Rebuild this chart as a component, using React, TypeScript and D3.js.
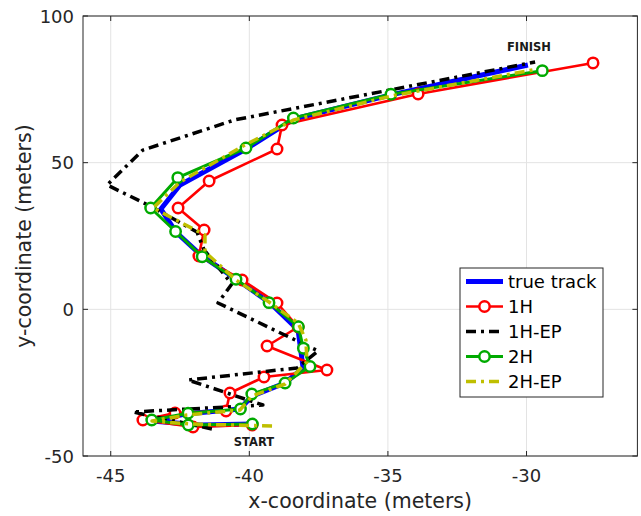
import React from 'react'
import * as d3 from 'd3'

// Data (meters)
const xTicks = [-45, -40, -35, -30]
const yTicks = [-50, 0, 50, 100]

const truthX = [-39.9, -41.78, -43.51, -42.32, -40.34, -39.9, -38.71, -38.06, -38.24, -39.25, -40.48, -41.71, -42.65, -43.19, -42.5, -40.12, -38.39, -34.89, -29.95]
const truthY = [-39.09, -39.43, -38.07, -35.68, -33.98, -29.54, -25.11, -20.0, -7.04, 2.16, 10.35, 18.19, 26.37, 34.2, 42.4, 54.67, 64.9, 73.1, 83.3]

const h1X = [-39.9, -42.03, -43.84, -42.68, -40.84, -40.7, -39.47, -37.2, -39.36, -38.24, -39.0, -40.26, -41.82, -41.63, -42.57, -41.45, -39.0, -38.82, -33.91, -27.6]
const h1Y = [-39.43, -40.11, -37.73, -35.34, -34.66, -28.52, -23.07, -20.68, -12.5, -6.02, 2.16, 10.0, 18.19, 27.05, 34.55, 43.76, 54.67, 62.85, 73.42, 84.0]

const ep1X = [-41.35, -44.2, -39.51, -42.21, -38.28, -37.52, -41.13, -40.63, -41.63, -41.89, -43.51, -45.13, -43.84, -40.52, -29.69]
const ep1Y = [-40.79, -35.0, -32.61, -24.09, -20.0, -14.2, 2.16, 8.64, 20.24, 26.37, 34.9, 42.4, 54.3, 64.6, 84.3]

const h2X = [-39.89, -42.2, -43.52, -42.21, -40.32, -39.91, -38.71, -37.81, -38.05, -38.23, -39.29, -40.48, -41.7, -42.66, -43.56, -42.58, -40.12, -38.41, -34.89, -29.43]
const h2Y = [-39.09, -39.43, -37.73, -35.44, -33.98, -28.86, -25.11, -19.49, -13.28, -5.92, 2.27, 10.25, 17.95, 26.54, 34.55, 44.89, 55.0, 65.24, 73.32, 81.37]

const ep2X = [-39.18, -42.14, -43.51, -42.25, -40.34, -39.9, -38.71, -37.92, -37.96, -38.24, -39.29, -40.48, -41.6, -41.6, -43.47, -42.5, -40.16, -38.39, -34.89, -29.77]
const ep2Y = [-39.77, -39.09, -38.07, -36.02, -34.32, -29.54, -25.45, -17.95, -10.45, -4.65, 2.5, 10.0, 19.55, 25.35, 34.55, 43.4, 56.0, 64.6, 72.7, 81.6]

const seriesNames = ['true track', '1H', '1H-EP', '2H', '2H-EP']

const font = '"DejaVu Sans", Verdana, sans-serif'

export default function App() {
  const W = 641
  const H = 516
  const x = d3.scaleLinear().domain([-46, -26]).range([83, 637.4])
  const y = d3.scaleLinear().domain([-50, 100]).range([456, 16])

  const [x0, x1] = x.range()
  const [y0, y1] = y.range()

  const line = d3
    .line<[number, number]>()
    .x(d => x(d[0]))
    .y(d => y(d[1]))

  const zip = (a: number[], b: number[]) => a.map((v, i) => [v, b[i]] as [number, number])

  const series = [
    { name: seriesNames[0], pts: zip(truthX, truthY), color: '#0000ff', w: 5, dash: null, marker: false },
    { name: seriesNames[1], pts: zip(h1X, h1Y), color: '#ff0000', w: 2.6, dash: null, marker: true },
    { name: seriesNames[2], pts: zip(ep1X, ep1Y), color: '#000000', w: 3.5, dash: '10,5,3,5', marker: false },
    { name: seriesNames[3], pts: zip(h2X, h2Y), color: '#00aa00', w: 3, dash: null, marker: true },
    { name: seriesNames[4], pts: zip(ep2X, ep2Y), color: '#bfbf00', w: 3.5, dash: '10,5,3,5', marker: false },
  ]

  const axisColor = '#262626'
  const gridColor = '#e3e3e3'

  return (
    <svg width={W} height={H} style={{ position: 'absolute', left: 0, top: 0, background: '#fff' }}>
      <rect x={0} y={0} width={W} height={H} fill="#fff" />
      {/* grid */}
      {xTicks.map(t => (
        <line key={'gx' + t} x1={x(t)} x2={x(t)} y1={y0} y2={y1} stroke={gridColor} strokeWidth={1} />
      ))}
      {yTicks.map(t => (
        <line key={'gy' + t} x1={x0} x2={x1} y1={y(t)} y2={y(t)} stroke={gridColor} strokeWidth={1} />
      ))}

      {/* series */}
      {series.map(s => (
        <g key={s.name}>
          <path
            d={line(s.pts) || ''}
            fill="none"
            stroke={s.color}
            strokeWidth={s.w}
            strokeDasharray={s.dash || undefined}
            strokeLinejoin="round"
          />
          {s.marker &&
            s.pts.map((p, i) => (
              <circle key={i} cx={x(p[0])} cy={y(p[1])} r={5.2} fill="#fff" stroke={s.color} strokeWidth={2.5} />
            ))}
        </g>
      ))}

      {/* annotations */}
      <text x={529} y={51} fontFamily={font} fontSize={11.5} fontWeight="bold" textAnchor="middle" fill="#1a1a1a">
        FINISH
      </text>
      <text x={254} y={446} fontFamily={font} fontSize={11.5} fontWeight="bold" textAnchor="middle" fill="#1a1a1a">
        START
      </text>

      {/* box + ticks */}
      <rect x={x0} y={y1} width={x1 - x0} height={y0 - y1} fill="none" stroke={axisColor} strokeWidth={1} />
      {xTicks.map(t => (
        <g key={'tx' + t}>
          <line x1={x(t)} x2={x(t)} y1={y0} y2={y0 - 5} stroke={axisColor} />
          <line x1={x(t)} x2={x(t)} y1={y1} y2={y1 + 5} stroke={axisColor} />
          <text x={x(t)} y={482} fontFamily={font} fontSize={18} textAnchor="middle" fill={axisColor}>
            {t}
          </text>
        </g>
      ))}
      {yTicks.map(t => (
        <g key={'ty' + t}>
          <line x1={x0} x2={x0 + 5} y1={y(t)} y2={y(t)} stroke={axisColor} />
          <line x1={x1} x2={x1 - 5} y1={y(t)} y2={y(t)} stroke={axisColor} />
          <text x={74} y={y(t) + 6.5} fontFamily={font} fontSize={18} textAnchor="end" fill={axisColor}>
            {t}
          </text>
        </g>
      ))}

      <text x={(x0 + x1) / 2} y={508} fontFamily={font} fontSize={20.5} textAnchor="middle" fill={axisColor}>
        x-coordinate (meters)
      </text>
      <text
        transform={`translate(31, ${(y0 + y1) / 2}) rotate(-90)`}
        fontFamily={font}
        fontSize={20.5}
        textAnchor="middle"
        fill={axisColor}
      >
        y-coordinate (meters)
      </text>

      {/* legend */}
      <g>
        <rect x={460} y={268} width={143} height={129} fill="#fff" stroke="#262626" strokeWidth={1} />
        {series.map((s, i) => {
          const ly = 281.5 + i * 25
          return (
            <g key={'lg' + s.name}>
              <line x1={466} x2={503} y1={ly} y2={ly} stroke={s.color} strokeWidth={s.w} strokeDasharray={s.dash || undefined} />
              {s.marker && <circle cx={484.5} cy={ly} r={5.2} fill="#fff" stroke={s.color} strokeWidth={2.5} />}
              <text x={508} y={ly + 6.5} fontFamily={font} fontSize={18} fill="#000">
                {s.name}
              </text>
            </g>
          )
        })}
      </g>
    </svg>
  )
}
